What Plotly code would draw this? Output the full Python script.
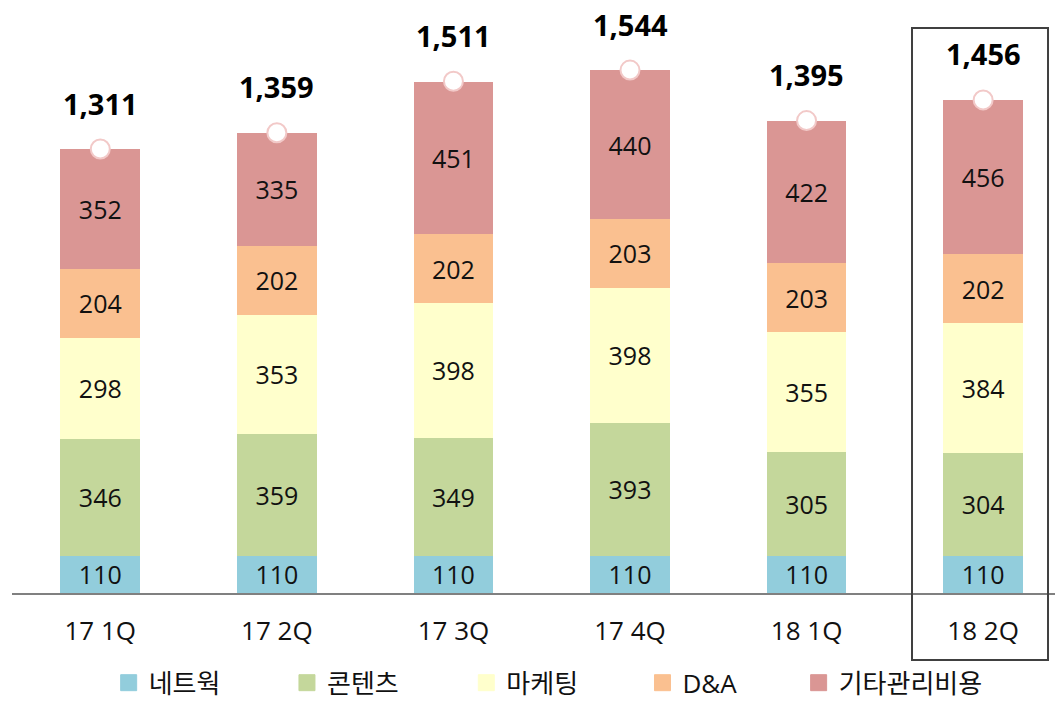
import plotly.graph_objects as go

quarters = ['17 1Q', '17 2Q', '17 3Q', '17 4Q', '18 1Q', '18 2Q']
network = [110, 110, 110, 110, 110, 110]
contents = [346, 359, 349, 393, 305, 304]
marketing = [298, 353, 398, 398, 355, 384]
dna = [204, 202, 202, 203, 203, 202]
others = [352, 335, 451, 440, 422, 456]
totals = [1311, 1359, 1511, 1544, 1395, 1456]

series = [
    ('네트웍', network, '#92CDDC'),
    ('콘텐츠', contents, '#C4D79B'),
    ('마케팅', marketing, '#FFFFCC'),
    ('D&A', dna, '#FAC090'),
    ('기타관리비용', others, '#DA9694'),
]

# left edge of each legend entry (container fraction)
legend_x = [0.103, 0.272, 0.442, 0.609, 0.757]

font_family = 'Open Sans, Noto Sans CJK KR, sans-serif'

fig = go.Figure()

for name, vals, color in series:
    fig.add_trace(go.Bar(
        x=quarters, y=vals, name=name, showlegend=False,
        marker=dict(color=color, line=dict(width=0)),
        width=0.452,
        text=[f'{v:,}' for v in vals],
        textposition='inside', insidetextanchor='middle',
        textfont=dict(size=25, color='#111111', family=font_family),
        constraintext='none',
        hoverinfo='skip',
    ))

# legend entries, one legend each so spacing matches
legend_layout = {}
for i, (name, vals, color) in enumerate(series):
    key = 'legend' if i == 0 else f'legend{i + 1}'
    fig.add_trace(go.Scatter(
        x=[None], y=[None], mode='markers', name=name,
        legend=key,
        marker=dict(symbol='square', size=16, color=color,
                    line=dict(color=color, width=1)),
    ))
    legend_layout[key] = dict(
        orientation='h', xref='container', yref='container',
        x=legend_x[i], xanchor='left', y=0.026, yanchor='middle',
        font=dict(size=26, color='#111111', family=font_family),
        itemwidth=30, bgcolor='rgba(0,0,0,0)',
    )

# total markers (white circles on top of bars)
fig.add_trace(go.Scatter(
    x=quarters, y=totals, mode='markers', showlegend=False,
    marker=dict(size=19, color='white', line=dict(color='#F2C9C8', width=2)),
    hoverinfo='skip',
))

for q, t in zip(quarters, totals):
    fig.add_annotation(
        x=q, y=t, text=f'<b>{t:,}</b>', showarrow=False,
        yshift=46, font=dict(size=29, color='#000000', family=font_family),
    )

# highlight box around 18 2Q
fig.add_shape(
    type='rect', xref='paper', yref='paper',
    x0=0.8629, x1=0.9933, y0=-0.113, y1=0.9528,
    line=dict(color='#404040', width=2),
)

fig.update_layout(
    width=1055, height=701,
    margin=dict(l=12, r=0, t=0, b=108),
    plot_bgcolor='white', paper_bgcolor='white',
    font=dict(family=font_family),
    barmode='stack',
    showlegend=True,
    xaxis=dict(
        range=[-0.5, 5.407],
        showline=True, linecolor='#808080', linewidth=1.5,
        showgrid=False, ticks='',
        tickfont=dict(size=26, color='#111111', family=font_family),
        ticklabelstandoff=14,
    ),
    yaxis=dict(
        range=[0, 1751], visible=False, showgrid=False, zeroline=False,
    ),
    **legend_layout,
)

fig.write_html('out.html', config={'displayModeBar': False},
               post_script="document.body.style.margin='0';")
